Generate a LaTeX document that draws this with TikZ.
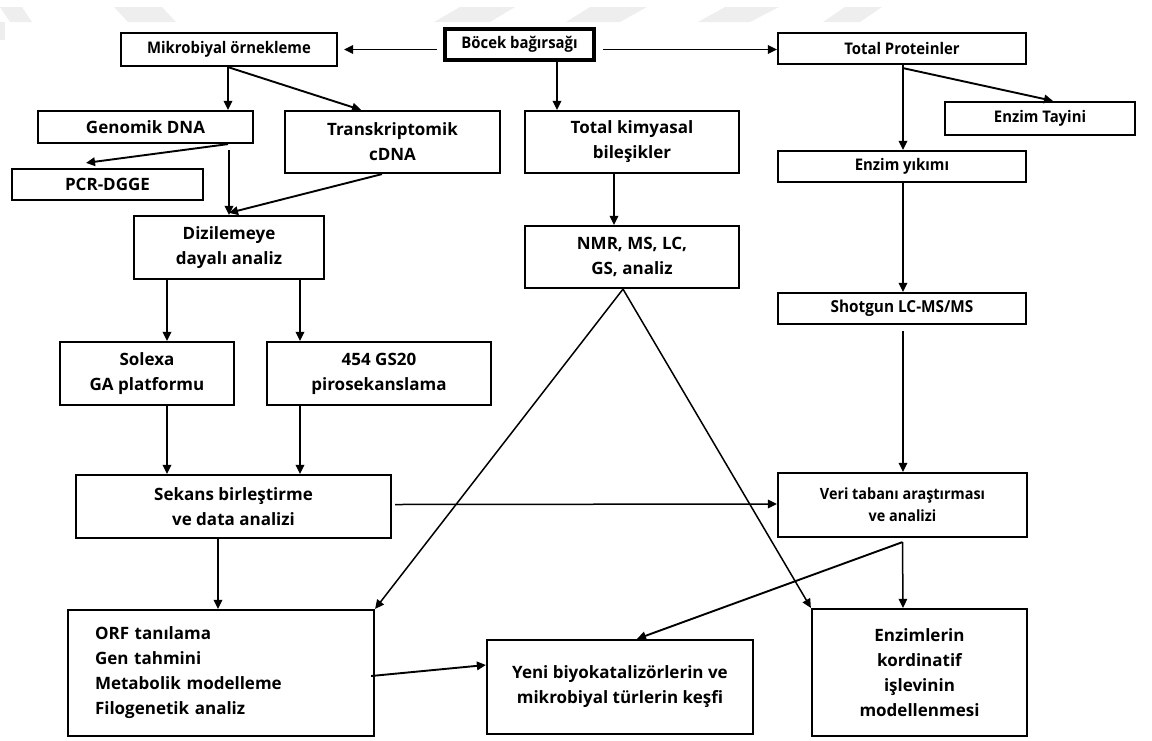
\documentclass[tikz,border=0pt]{standalone}
\usepackage{fontspec}
\setmainfont{Open Sans}
\newfontfamily\condf{Open Sans}[FakeStretch=0.93]
\usetikzlibrary{arrows.meta}
\tikzset{
  box/.style={draw, line width=2.2pt, align=center, inner sep=0pt,
    font=\bfseries\fontsize{17}{25}\selectfont},
  cbox/.style={box, font=\condf\bfseries\fontsize{16}{22}\selectfont},
  arr/.style={line width=1.9pt, -{Triangle[length=9pt,width=8.5pt]}},
  tarr/.style={line width=1.5pt, -{Triangle[length=9pt,width=8.5pt]}},
  wm/.style={fill=gray!13, draw=none}
}
\begin{document}
\begin{tikzpicture}[x=1pt,y=-1pt]
\useasboundingbox (0,0) rectangle (1152,740);
% watermark shapes
\fill[wm] (0,7) -- (22,7) -- (32,22) -- (10,22) -- cycle;
\fill[wm] (0,22) rectangle (5,40);
\fill[wm] (114,7) -- (162,7) -- (176,22) -- (128,22) -- cycle;
\fill[wm] (460,7) -- (515,7) -- (490,22) -- (434,22) -- cycle;
\fill[wm] (590,7) -- (647,7) -- (620,22) -- (566,22) -- cycle;
\fill[wm] (725,7) -- (779,7) -- (750,22) -- (698,22) -- cycle;
\fill[wm] (845,7) -- (882,7) -- (860,22) -- (823,22) -- cycle;

% nodes
\node[cbox, line width=4.5pt, minimum width=149pt, minimum height=31pt] (boc) at (519.5,44.5) {Böcek bağırsağı};
\node[cbox, minimum width=216pt, minimum height=33pt] (mik) at (229,49.5) {Mikrobiyal örnekleme};
\node[cbox, minimum width=248pt, minimum height=31pt] (tp) at (902,48.5) {Total Proteinler};
\node[box, minimum width=215pt, minimum height=32pt] (gen) at (145.5,127) {Genomik DNA};
\node[box, minimum width=215pt, minimum height=62pt] (tra) at (392.5,142) {Transkriptomik\\cDNA};
\node[box, minimum width=214pt, minimum height=62pt] (tk) at (632,142) {Total kimyasal\\bileşikler};
\node[cbox, minimum width=190pt, minimum height=33pt] (et) at (1040,118.5) {Enzim Tayini};
\node[box, minimum width=191pt, minimum height=31pt] (pcr) at (107.5,184.5) {PCR-DGGE};
\node[cbox, minimum width=248pt, minimum height=31pt] (ey) at (902,166.5) {Enzim yıkımı};
\node[box, minimum width=190pt, minimum height=63pt] (diz) at (229,247.5) {Dizilemeye\\dayalı analiz};
\node[box, minimum width=214pt, minimum height=62pt] (nmr) at (632,257) {NMR, MS, LC,\\GS, analiz};
\node[cbox, font=\condf\bfseries\fontsize{16.5}{22}\selectfont, minimum width=248pt, minimum height=31pt] (sho) at (902,308.5) {Shotgun LC-MS/MS};
\node[box, minimum width=174pt, minimum height=63pt] (sol) at (147,373.5) {Solexa\\GA platformu};
\node[box, minimum width=224pt, minimum height=63pt] (gs) at (379,373.5) {454 GS20\\pirosekanslama};
\node[box, minimum width=315pt, minimum height=63pt] (sek) at (233.5,506.5) {Sekans birleştirme\\ve data analizi};
\node[cbox, font=\condf\bfseries\fontsize{15.5}{22}\selectfont, minimum width=249pt, minimum height=64pt] (veri) at (902.5,505) {Veri tabanı araştırması\\ve analizi};
\node[box, minimum height=126pt, text width=252pt, inner xsep=27pt, align=left] (orf) at (221,673) {ORF tanılama\\Gen tahmini\\Metabolik modelleme\\Filogenetik analiz};
\node[box, minimum width=266pt, minimum height=94pt] (yeni) at (620,687) {Yeni biyokatalizörlerin ve\\mikrobiyal türlerin keşfi};
\node[box, minimum width=215pt, minimum height=127pt] (enz) at (919.5,672.5) {Enzimlerin\\kordinatif\\işlevinin\\modellenmesi};

% connectors
\draw[arr] ([xshift=-6pt]boc.west |- mik.east) -- ([xshift=6pt]mik.east);
\draw[arr] ([xshift=7pt]boc.east |- mik.east) -- (tp.west |- mik.east);
\draw[arr] ([xshift=37.5pt]boc.south) -- ([xshift=37.5pt]boc.south |- tk.north);
\draw[arr] ([xshift=-1pt]mik.south) -- ([xshift=-1pt]mik.south |- gen.north);
\draw[arr] ([xshift=-1pt]mik.south) -- ([xshift=-31.5pt]tra.north);
\draw[arr] ([xshift=82.5pt]gen.south) -- ([xshift=-21.5pt,yshift=5pt]pcr.north);
\draw[arr] ([xshift=83.5pt,yshift=-6pt]gen.south) -- (diz.north);
\draw[arr] ([xshift=-10.5pt]tra.south) -- ([yshift=2pt]diz.north);
\draw[arr] ([xshift=-62pt]diz.south) -- ([xshift=-62pt]diz.south |- sol.north);
\draw[arr] ([xshift=71pt]diz.south) -- ([xshift=71pt]diz.south |- gs.north);
\draw[arr] ([xshift=20pt]sol.south) -- ([xshift=20pt]sol.south |- sek.north);
\draw[arr] ([xshift=-79pt]gs.south) -- ([xshift=-79pt]gs.south |- sek.north);
\draw[arr] ([xshift=-15.5pt]sek.south) -- ([xshift=-15.5pt]sek.south |- orf.north);
\draw[tarr] ([xshift=3pt,yshift=2pt]sek.east) -- ([yshift=1pt]veri.west);
\draw[arr] ([xshift=-18pt]tk.south) -- ([xshift=-18pt]tk.south |- nmr.north);
\coordinate (apex) at ([xshift=-9pt]nmr.south);
\draw[tarr] (apex) -- (orf.north east);
\draw[tarr] (apex) -- (enz.north west);
\draw[arr] ([xshift=1pt]tp.south) -- ([xshift=1pt]tp.south |- ey.north);
\draw[arr] ([xshift=1pt,yshift=-3pt]tp.south) -- ([xshift=13pt]et.north);
\draw[arr] ([xshift=1pt]ey.south) -- ([xshift=1pt]ey.south |- sho.north);
\draw[tarr] ([xshift=1pt,yshift=-6pt]sho.south) -- ([xshift=1pt]sho.south |- veri.north);
\draw[tarr] ([yshift=-4pt]veri.south) -- ([xshift=-16.5pt]enz.north);
\draw[arr] ([yshift=-4pt]veri.south) -- ([xshift=17pt]yeni.north);
\draw[arr] ([xshift=-4pt,yshift=-3pt]orf.east) -- ([yshift=22pt]yeni.west);
\end{tikzpicture}
\end{document}
